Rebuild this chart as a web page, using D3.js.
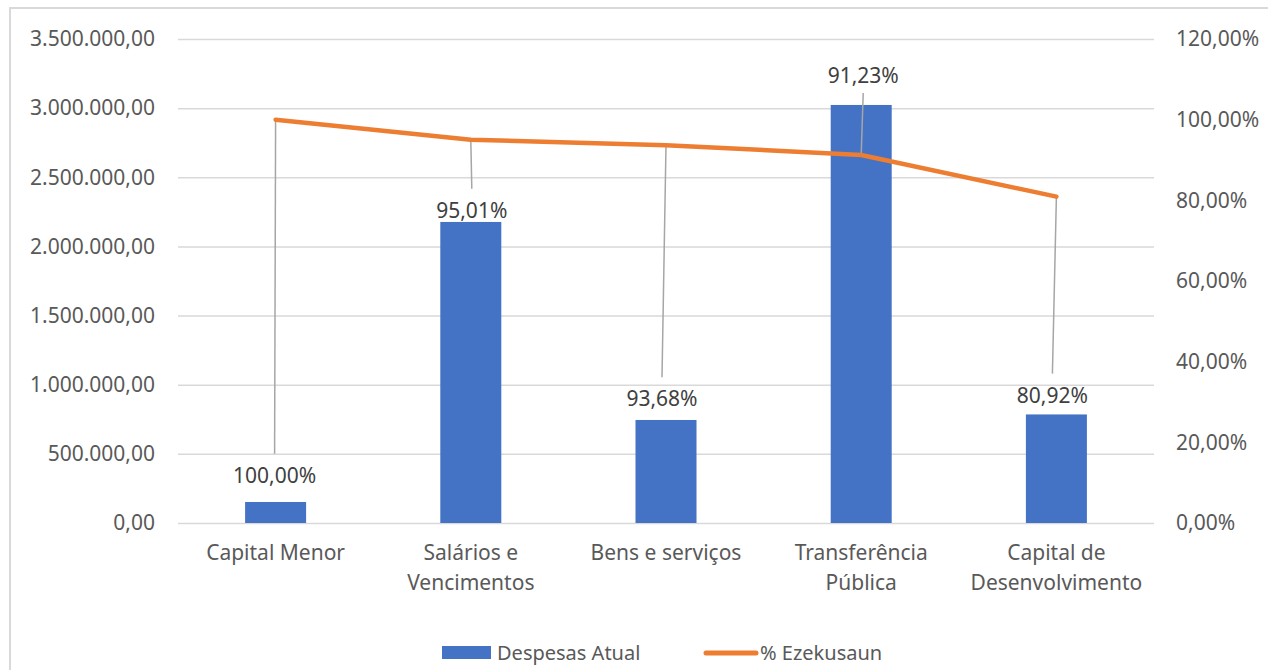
<!DOCTYPE html>
<html>
<head>
<meta charset="utf-8">
<script src="https://d3js.org/d3.v7.min.js"></script>
<style>
  body { margin: 0; background: #fff; }
  svg { font-family: "Noto Sans", "Open Sans", sans-serif; }
</style>
</head>
<body>
<svg id="chart" width="1268" height="670"></svg>
<script>
// data
var categories = ["Capital Menor", "Salários e Vencimentos", "Bens e serviços", "Transferência Pública", "Capital de Desenvolvimento"];
var despesas = [152000, 2177000, 745000, 3023000, 785000];
var execucao = [1.0000, 0.9501, 0.9368, 0.9123, 0.8092];
var leftTicks = [0, 500000, 1000000, 1500000, 2000000, 2500000, 3000000, 3500000];
var rightTicks = [0, 0.2, 0.4, 0.6, 0.8, 1.0, 1.2];
var seriesNames = ["Despesas Atual", "% Ezekusaun"];

// label placement (dragged labels in the original), px offsets from the point
var labelDx = [-1, 1, -4, 2, -4];
var labelDy = [355, 70, 253, -80, 198];

var locale = d3.formatLocale({decimal: ",", thousands: ".", grouping: [3], currency: ["", ""]});
var fmtNum = locale.format(",.2f");
var fmtPct = locale.format(".2%");

var W = 1268, H = 670;
var plotL = 178, plotR = 1154, plotT = 39, plotB = 523;
var blue = "#4472C4", orange = "#ED7D31", grid = "#d9d9d9";
var fs = "21px";

var svg = d3.select("#chart");

// outer frame
svg.append("rect")
    .attr("x", 10).attr("y", 8)
    .attr("width", W).attr("height", H)
    .attr("fill", "none").attr("stroke", grid).attr("stroke-width", 2);

var x = d3.scaleBand().domain(categories).range([plotL, plotR])
    .paddingInner(0.6875).paddingOuter(0.34375);
var yL = d3.scaleLinear().domain([0, 3500000]).range([plotB, plotT]);
var yR = d3.scaleLinear().domain([0, 1.2]).range([plotB, plotT]);

// grid + left axis
var gl = svg.append("g").attr("transform", "translate(" + plotL + ",0)")
    .call(d3.axisLeft(yL).tickValues(leftTicks).tickSize(-(plotR - plotL)).tickPadding(23).tickFormat(fmtNum));
gl.select(".domain").remove();
gl.selectAll(".tick line").attr("stroke", grid).attr("stroke-width", 1.5);
gl.selectAll(".tick text").attr("fill", "#595959").style("font-size", fs)
    .style("font-family", "'Noto Sans', sans-serif");

// right axis
var gr = svg.append("g").attr("transform", "translate(" + plotR + ",0)")
    .call(d3.axisRight(yR).tickValues(rightTicks).tickSize(0).tickPadding(22).tickFormat(fmtPct));
gr.select(".domain").remove();
gr.selectAll(".tick text").attr("fill", "#595959").style("font-size", fs)
    .style("font-family", "'Noto Sans', sans-serif");

// bars
svg.append("g").selectAll("rect")
    .data(categories)
    .join("rect")
    .attr("x", d => x(d))
    .attr("y", (d, i) => yL(despesas[i]))
    .attr("width", x.bandwidth())
    .attr("height", (d, i) => plotB - yL(despesas[i]))
    .attr("fill", blue);

// x labels with simple word wrap
var cx = d => x(d) + x.bandwidth() / 2;
var xl = svg.append("g");
categories.forEach(function(c) {
    var t = xl.append("text").attr("x", cx(c)).attr("y", 560)
        .attr("text-anchor", "middle").attr("fill", "#595959").style("font-size", fs);
    var words = c.split(" "), line = [], lines = [];
    var probe = xl.append("text").style("font-size", fs);
    words.forEach(function(w) {
        var test = line.concat([w]).join(" ");
        probe.text(test);
        if (line.length && probe.node().getComputedTextLength() > 185) {
            lines.push(line.join(" "));
            line = [w];
        } else line.push(w);
    });
    lines.push(line.join(" "));
    probe.remove();
    lines.forEach(function(l, j) {
        t.append("tspan").attr("x", cx(c)).attr("dy", j ? 30 : 0).text(l);
    });
});

// leader lines
var pts = categories.map((c, i) => ({x: cx(c), y: yR(execucao[i]), lx: cx(c) + labelDx[i], ly: yR(execucao[i]) + labelDy[i]}));
svg.append("g").selectAll("line")
    .data(pts)
    .join("line")
    .attr("x1", d => d.x).attr("y1", d => d.y)
    .attr("x2", d => d.lx)
    .attr("y2", d => d.ly > d.y ? d.ly - 21 : d.ly + 18)
    .attr("stroke", "#a6a6a6").attr("stroke-width", 1.5);

// line series
svg.append("path")
    .datum(pts)
    .attr("d", d3.line().x(d => d.x).y(d => d.y))
    .attr("fill", "none").attr("stroke", orange).attr("stroke-width", 4.5)
    .attr("stroke-linejoin", "round").attr("stroke-linecap", "round");

// data labels
svg.append("g").selectAll("text")
    .data(pts)
    .join("text")
    .attr("x", d => d.lx).attr("y", d => d.ly + 8)
    .attr("text-anchor", "middle").attr("fill", "#404040").style("font-size", fs)
    .text((d, i) => fmtPct(execucao[i]));

// legend
var lg = svg.append("g");
lg.append("rect").attr("x", 442).attr("y", 646).attr("width", 49).attr("height", 13).attr("fill", blue);
lg.append("text").attr("x", 497).attr("y", 660).attr("fill", "#595959").style("font-size", "20px").text(seriesNames[0]);
lg.append("line").attr("x1", 706).attr("x2", 756).attr("y1", 653).attr("y2", 653)
    .attr("stroke", orange).attr("stroke-width", 5).attr("stroke-linecap", "round");
lg.append("text").attr("x", 760).attr("y", 660).attr("fill", "#595959").style("font-size", "20px").text(seriesNames[1]);
</script>
</body>
</html>
